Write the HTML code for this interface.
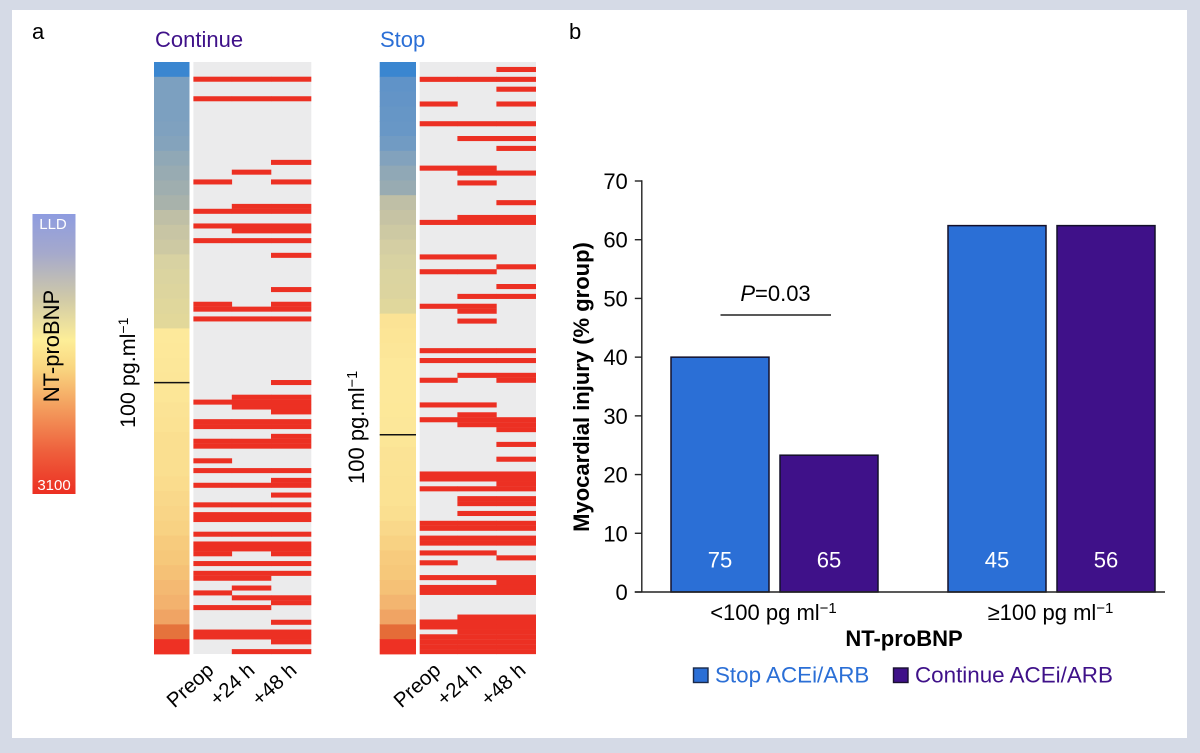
<!DOCTYPE html>
<html lang="en">
<head>
<meta charset="utf-8">
<title>NT-proBNP heatmaps and myocardial injury</title>
<style>
html,body{margin:0;padding:0;background:#d5dae6;}
svg{display:block;font-family:"Liberation Sans",Arial,sans-serif;}
</style>
</head>
<body>
<svg id="figure" xmlns="http://www.w3.org/2000/svg" width="1200" height="753" viewBox="0 0 1200 753">
  <defs>
    <linearGradient id="legendGradient" x1="0" y1="0" x2="0" y2="1">
      <stop offset="0" stop-color="#8e9ce0"/>
      <stop offset="0.14" stop-color="#a5a9cc"/>
      <stop offset="0.3" stop-color="#cfc9a8"/>
      <stop offset="0.45" stop-color="#fdee98"/>
      <stop offset="0.55" stop-color="#f9d680"/>
      <stop offset="0.68" stop-color="#f4a260"/>
      <stop offset="0.85" stop-color="#ee5f3c"/>
      <stop offset="1" stop-color="#ec2f22"/>
    </linearGradient>
  </defs>
  <rect x="0" y="0" width="1200" height="753" fill="#d5dae6"/>
  <rect x="12" y="10" width="1175" height="728" fill="#ffffff"/>

  <text x="32" y="39" font-size="22" fill="#000">a</text>
  <text x="569" y="39" font-size="22" fill="#000">b</text>

  <g>
    <rect x="32.5" y="214" width="43" height="280" fill="url(#legendGradient)"/>
    <text x="53" y="229" font-size="15" fill="#fff" text-anchor="middle">LLD</text>
    <text x="54" y="490" font-size="15" fill="#fff" text-anchor="middle">3100</text>
    <text transform="translate(59 346) rotate(-90)" font-size="22" fill="#000" text-anchor="middle">NT-proBNP</text>
  </g>

  <text x="155" y="47" font-size="22" fill="#3f1189">Continue</text>
  <text x="380" y="47" font-size="22" fill="#2b6fd6">Stop</text>

  <text transform="translate(135 428) rotate(-90)" font-size="21.5" fill="#000">100 pg.ml<tspan font-size="14" dy="-7">−1</tspan></text>
  <text transform="translate(364 484) rotate(-90)" font-size="22" fill="#000">100 pg.ml<tspan font-size="14.5" dy="-7">−1</tspan></text>

  <g id="continue-heatmap"></g>
  <g id="stop-heatmap"></g>
  <g id="bar-chart"></g>

  <text transform="translate(589 387) rotate(-90)" font-size="22" font-weight="bold" fill="#000" text-anchor="middle">Myocardial injury (% group)</text>
  <text x="904" y="646" font-size="22" font-weight="bold" fill="#000" text-anchor="middle">NT-proBNP</text>

  <g>
    <text x="775.5" y="301" font-size="22" fill="#000" text-anchor="middle"><tspan font-style="italic">P</tspan>=0.03</text>
    <line x1="720.5" y1="315" x2="831" y2="315" stroke="#222" stroke-width="1.4"/>
  </g>

  <g>
    <rect x="693.5" y="668" width="14.5" height="14.5" fill="#2b6fd6" stroke="#1a2a4a" stroke-width="1.4"/>
    <text x="715" y="682.5" font-size="22.4" fill="#2b6fd6">Stop ACEi/ARB</text>
    <rect x="893.5" y="668" width="14.5" height="14.5" fill="#3f1189" stroke="#1a1030" stroke-width="1.4"/>
    <text x="915" y="682.5" font-size="22.4" fill="#3f1189">Continue ACEi/ARB</text>
  </g>
</svg>

<script>
/* ---------- Heatmap data: row indices with an event, per time column ---------- */
const timeLabels = ['Preop', '+24 h', '+48 h'];

const continueRowCount = 121;
const continuePreop = [3,7,24,30,33,36,49,50,52,69,73,74,77,78,81,83,86,90,92,93,96,98,99,100,102,104,105,108,111,116,117];
const continue24h = [3,7,22,29,30,33,34,36,50,52,68,69,70,73,74,77,78,83,86,90,92,93,96,98,99,102,104,105,107,109,111,116,117,120];
const continue48h = [3,7,20,24,29,30,33,34,36,39,46,49,50,52,65,68,69,70,71,73,74,76,77,78,83,85,86,88,90,92,93,96,98,99,100,102,104,109,110,114,116,117,118,120];

const stopRowCount = 120;
const stopPreop = [3,8,12,21,32,39,42,49,58,60,64,69,72,83,84,86,93,94,96,97,99,101,104,106,107,113,114,116,117,118,119];
const stop24h = [3,12,15,21,22,24,31,32,39,42,47,49,50,52,58,60,63,69,71,72,73,83,84,86,88,89,91,93,94,96,97,99,104,106,107,112,113,114,115,116,117,118,119];
const stop48h = [1,3,5,8,12,15,17,22,28,31,32,41,45,47,58,60,63,64,72,73,74,77,80,83,84,85,86,88,89,91,93,94,96,97,100,104,105,106,107,112,113,114,115,116,117,118,119];

/* Baseline NT-proBNP level in 40 equal bands, on the 0–1 colour scale */
const continueBaseline = [0,.2,.2,.2,.21,.23,.27,.3,.33,.37,.41,.43,.45,.5,.52,.54,.56,.58,.62,.63,.65,.66,.67,.7,.72,.73,.73,.73,.74,.75,.76,.77,.79,.8,.82,.84,.86,.88,.93,1];
const stopBaseline = [0,.1,.11,.12,.13,.16,.22,.27,.3,.41,.42,.45,.48,.5,.52,.53,.56,.7,.68,.66,.63,.63,.63,.64,.65,.67,.7,.71,.72,.72,.73,.75,.77,.79,.8,.82,.85,.88,.94,1];

/* Position (0–1 along the baseline ordering) of the 100 pg/ml threshold */
const continueThresholdFraction = 0.5417;
const stopThresholdFraction = 0.6296;

/* ---------- Bar chart data ---------- */
const barGroups = ['<100 pg ml', '≥100 pg ml'];
const stopValues = [40, 62.4];
const continueValues = [23.3, 62.4];
const stopCounts = [75, 45];
const continueCounts = [65, 56];
const yTicks = [0, 10, 20, 30, 40, 50, 60, 70];

/* ---------- Helpers ---------- */
const SVGNS = 'http://www.w3.org/2000/svg';

function make(tag, parent, attrs) {
  const el = document.createElementNS(SVGNS, tag);
  for (const k in attrs) el.setAttribute(k, attrs[k]);
  parent.appendChild(el);
  return el;
}

const colourStops = [
  [0, '#3a86d0'], [.1, '#6093c8'], [.2, '#7ca0c0'], [.3, '#98abb2'], [.38, '#aab3aa'],
  [.42, '#c6c3a4'], [.5, '#d8d2a2'], [.58, '#e2d89a'], [.62, '#fde99b'], [.72, '#fbe293'],
  [.8, '#f6c87a'], [.87, '#f2ae6c'], [.93, '#e5733c'], [.97, '#e5562a'], [1, '#ee3124']
];

function hexToRgb(h) {
  return [parseInt(h.slice(1, 3), 16), parseInt(h.slice(3, 5), 16), parseInt(h.slice(5, 7), 16)];
}

function levelColour(v) {
  for (let i = 1; i < colourStops.length; i++) {
    if (v <= colourStops[i][0]) {
      const a = colourStops[i - 1], b = colourStops[i];
      const t = (v - a[0]) / (b[0] - a[0]);
      const ca = hexToRgb(a[1]), cb = hexToRgb(b[1]);
      return 'rgb(' + ca.map((c, j) => Math.round(c + (cb[j] - c) * t)).join(',') + ')';
    }
  }
  return colourStops[colourStops.length - 1][1];
}

/* ---------- Heatmap rendering ---------- */
const heatTop = 62;
const heatHeight = 592;

function drawHeatmap(root, cfg) {
  const rowScale = r => heatTop + r * heatHeight / cfg.rowCount;
  const stripBandH = heatHeight / cfg.baseline.length;

  cfg.baseline.forEach((level, i) => {
    const band = make('rect', root, {
      x: cfg.stripX, y: heatTop + i * stripBandH,
      width: cfg.stripW, height: stripBandH + 0.4, fill: levelColour(level)
    });
    
    
  });

  const line = make('line', root, {
    x1: cfg.stripX, x2: cfg.stripX + cfg.stripW,
    y1: heatTop + cfg.threshold * heatHeight, y2: heatTop + cfg.threshold * heatHeight,
    stroke: '#111', 'stroke-width': 1.5
  });
  
  

  const bg = make('rect', root, {
    x: cfg.colX[0], y: heatTop, width: cfg.colX[3] - cfg.colX[0], height: heatHeight, fill: '#ebebec'
  });
  
  

  cfg.columns.forEach((rows, c) => {
    rows.forEach(r => {
      const cell = make('rect', root, {
        x: cfg.colX[c], y: rowScale(r),
        width: cfg.colX[c + 1] - cfg.colX[c] + (c < 2 ? 0.3 : 0),
        height: heatHeight / cfg.rowCount + 0.15, fill: '#ec3023'
      });
      
      
    });
  });

  timeLabels.forEach((label, c) => {
    const t = make('text', root, {
      transform: 'translate(' + cfg.labelX[c] + ' ' + cfg.labelY + ') rotate(-42)',
      'font-size': 20.5, fill: '#000', 'text-anchor': 'end'
    });
    
    
    t.textContent = label;
  });
}

drawHeatmap(document.getElementById('continue-heatmap'), {
  rowCount: continueRowCount,
  baseline: continueBaseline,
  threshold: continueThresholdFraction,
  columns: [continuePreop, continue24h, continue48h],
  stripX: 154, stripW: 35.5,
  colX: [193.4, 231.8, 271, 311.3],
  labelX: [215, 256, 298], labelY: 672
});

drawHeatmap(document.getElementById('stop-heatmap'), {
  rowCount: stopRowCount,
  baseline: stopBaseline,
  threshold: stopThresholdFraction,
  columns: [stopPreop, stop24h, stop48h],
  stripX: 379.7, stripW: 36.3,
  colX: [419.7, 457.4, 496.4, 536],
  labelX: [442, 483, 527], labelY: 672
});

/* ---------- Bar chart rendering ---------- */
const chart = document.getElementById('bar-chart');
const axisX = 641.8;
const y0 = 592;
const yUnit = (592 - 181) / 70;
const yScale = v => y0 - v * yUnit;
const groupCentre = i => 774.5 + i * 277;
const barW = 98;
const barOffset = 54.5;

yTicks.forEach(t => {
  const tick = make('line', chart, {
    x1: axisX - 7, x2: axisX, y1: yScale(t), y2: yScale(t), stroke: '#222', 'stroke-width': 1.4
  });
  
  
  const lab = make('text', chart, {
    x: axisX - 14, y: yScale(t) + 8, 'font-size': 22, 'text-anchor': 'end', fill: '#000'
  });
  
  
  lab.textContent = t;
});

const yAxis = make('line', chart, {
  x1: axisX, x2: axisX, y1: yScale(yTicks[yTicks.length - 1]) - 0.7, y2: y0, stroke: '#222', 'stroke-width': 1.4
});



function drawBar(value, count, cx, fill, name) {
  const bar = make('rect', chart, {
    x: cx - barW / 2, y: yScale(value), width: barW, height: y0 - yScale(value),
    fill: fill, stroke: '#14102a', 'stroke-width': 1.5
  });
  
  
  const n = make('text', chart, {
    x: cx, y: 567.5, 'font-size': 22, fill: '#fff', 'text-anchor': 'middle'
  });
  
  
  n.textContent = count;
}

barGroups.forEach((g, i) => {
  drawBar(stopValues[i], stopCounts[i], groupCentre(i) - barOffset, '#2b6fd6', 'bar-stop');
  drawBar(continueValues[i], continueCounts[i], groupCentre(i) + barOffset, '#3f1189', 'bar-continue');
  const lab = make('text', chart, {
    x: groupCentre(i) - 1, y: 620, 'font-size': 22, 'text-anchor': 'middle', fill: '#000'
  });
  
  
  lab.textContent = g;
  const sup = make('tspan', lab, { 'font-size': 15, dy: -7 });
  
  
  sup.textContent = '−1';
});

const xAxis = make('line', chart, {
  x1: axisX - 7, x2: 1165, y1: y0, y2: y0, stroke: '#222', 'stroke-width': 1.4
});


</script>
</body>
</html>
